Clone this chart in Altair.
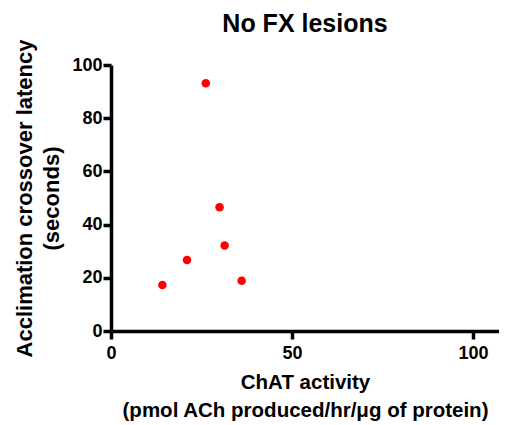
import altair as alt
import pandas as pd

chat_activity = [26.2, 30.0, 31.4, 21.0, 14.2, 36.1]
latency = [93.1, 46.5, 32.1, 26.7, 17.3, 18.9]

df = pd.DataFrame({"x": chat_activity, "y": latency})

FONT = "Liberation Sans"

chart = (
    alt.Chart(df)
    .mark_circle(size=72, color="#ff0000", opacity=1)
    .encode(
        x=alt.X(
            "x:Q",
            scale=alt.Scale(domain=[0, 107.2], nice=False, zero=False),
            axis=alt.Axis(
                values=[0, 50, 100],
                title=["ChAT activity", "(pmol ACh produced/hr/μg of protein)"],
                titleFontSize=20.5,
                titlePadding=10,
                titleLineHeight=28,
                labelFontSize=18,
                labelPadding=5,
                labelFlush=False,
            ),
        ),
        y=alt.Y(
            "y:Q",
            scale=alt.Scale(domain=[0, 100], nice=False),
            axis=alt.Axis(
                values=[0, 20, 40, 60, 80, 100],
                title=["Acclimation crossover latency", "(seconds)"],
                titleFontSize=22,
                titlePadding=8,
                titleLineHeight=27,
                labelFontSize=18,
                labelPadding=1,
                labelFlush=False,
            ),
        ),
    )
    .properties(
        width=388,
        height=266,
        title=alt.TitleParams("No FX lesions", fontSize=25, font=FONT, fontWeight="bold",
                              offset=0, dy=-2, color="black", anchor="middle"),
        autosize=alt.AutoSizeParams(type="none"),
        padding={"left": 103, "top": 57, "right": 0, "bottom": 90},
    )
    .configure_axis(
        domainColor="black",
        domainWidth=3.5,
        tickColor="black",
        tickWidth=3.5,
        tickSize=8,
        grid=False,
        labelFont=FONT,
        labelFontWeight="bold",
        labelColor="black",
        titleFont=FONT,
        titleFontWeight="bold",
        titleColor="black",
    )
    .configure_view(stroke=None)
)

chart.save("out.html", embed_options={"renderer": "svg", "actions": False})
